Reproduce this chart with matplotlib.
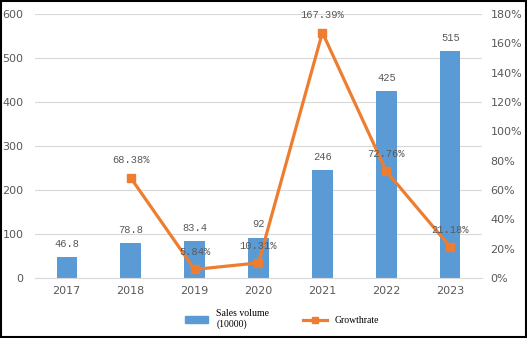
import numpy as np
import matplotlib.pyplot as plt
from matplotlib.lines import Line2D
from matplotlib.patches import Patch

years = ['2017', '2018', '2019', '2020', '2021', '2022', '2023']
sales = [46.8, 78.8, 83.4, 92, 246, 425, 515]
growth_years = ['2018', '2019', '2020', '2021', '2022', '2023']
growth = [68.38, 5.84, 10.31, 167.39, 72.76, 21.18]

blue = '#5B9BD5'
orange = '#ED7D31'
gray = '#595959'

fig = plt.figure(figsize=(5.27, 3.38), dpi=100)
ax = fig.add_axes([0.066, 0.1775, 0.849, 0.781])
ax2 = ax.twinx()

x = np.arange(len(years))
ax.bar(x, sales, width=0.32, color=blue, zorder=2)
for xi, v in zip(x, sales):
    ax.annotate(f'{v:g}', (xi, v), xytext=(0, 9.5), textcoords='offset points',
                ha='center', va='center', fontsize=7.5, color=gray, family='Liberation Mono')

gx = np.array([years.index(y) for y in growth_years])
ax2.plot(gx, growth, color=orange, linewidth=2.3, marker='s', markersize=6, zorder=3)
for xi, v in zip(gx, growth):
    ax2.annotate(f'{v:.2f}%', (xi, v), xytext=(0, 12.5), textcoords='offset points',
                 ha='center', va='center', fontsize=7.5, color=gray,
                 family='Liberation Mono', zorder=4)

ax.set_xlim(-0.5, 6.5)
ax.set_ylim(0, 600)
ax.set_yticks(range(0, 601, 100))
ax2.set_ylim(0, 180)
ax2.set_yticks(range(0, 181, 20))
ax2.set_yticklabels([f'{t}%' for t in range(0, 181, 20)])
ax.set_xticks(x)
ax.set_xticklabels(years)

ax.yaxis.grid(True, color='#D9D9D9', linewidth=0.8, zorder=0)
ax.set_axisbelow(True)
for a in (ax, ax2):
    for s in a.spines.values():
        s.set_visible(False)
    a.tick_params(length=0, labelsize=8, colors=gray)
ax.spines['bottom'].set_visible(True)
ax.spines['bottom'].set_color('#D9D9D9')
ax.tick_params(axis='y', pad=8)
ax.tick_params(axis='x', pad=6)
ax2.tick_params(axis='y', pad=6)

handles = [Patch(color=blue), Line2D([], [], color=orange, linewidth=2.3, marker='s', markersize=4)]
fig.legend(handles, ['Sales volume\n(10000)', 'Growthrate'], loc='center', bbox_to_anchor=(0.535, 0.055),
           ncol=2, frameon=False, prop={'family': 'Liberation Serif', 'size': 7},
           handlelength=2.4, columnspacing=3.5, handletextpad=0.8)

fig.patches.append(plt.Rectangle((0.002, 0.003), 0.996, 0.994, transform=fig.transFigure,
                                 fill=False, edgecolor='black', linewidth=1.5))

fig.savefig('out.png', dpi=100)
